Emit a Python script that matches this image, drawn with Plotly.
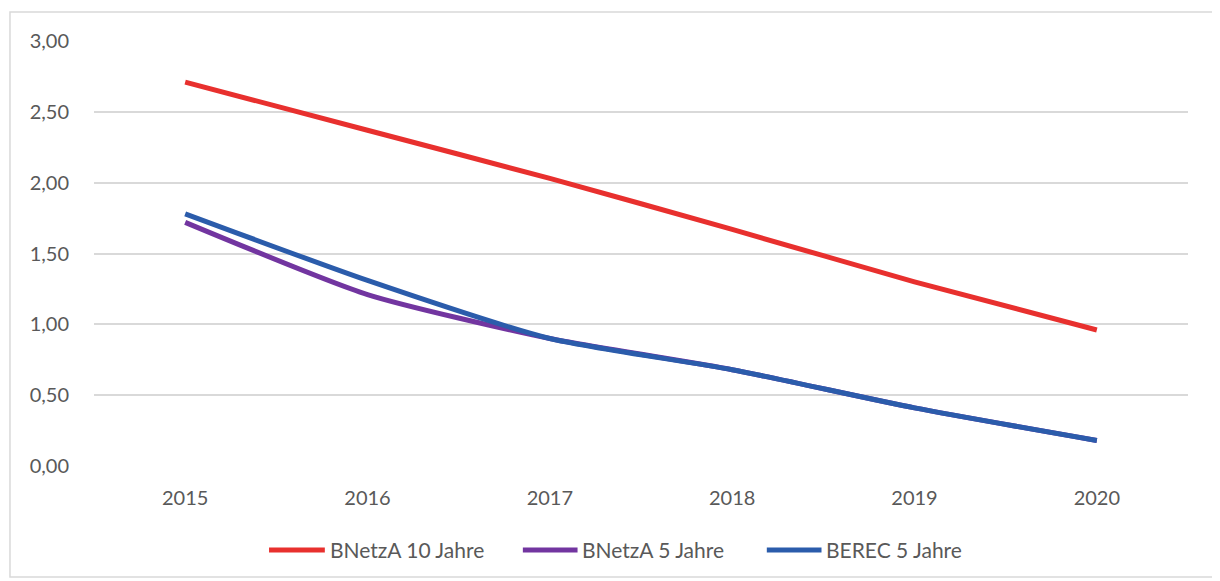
import plotly.graph_objects as go

years = ["2015", "2016", "2017", "2018", "2019", "2020"]
bnetza_10 = [2.71, 2.37, 2.03, 1.67, 1.30, 0.96]
bnetza_5 = [1.72, 1.21, 0.90, 0.68, 0.41, 0.18]
berec_5 = [1.78, 1.31, 0.90, 0.68, 0.41, 0.18]
series_names = ["BNetzA 10 Jahre", "BNetzA 5 Jahre", "BEREC 5 Jahre"]
y_ticks = [0, 0.5, 1.0, 1.5, 2.0, 2.5, 3.0]
y_tick_labels = ["0,00", "0,50", "1,00", "1,50", "2,00", "2,50", "3,00"]

colors = ["#E8302E", "#7235A0", "#2B5CAB"]
series = [bnetza_10, bnetza_5, berec_5]

fig = go.Figure()
for name, vals, col in zip(series_names, series, colors):
    fig.add_trace(go.Scatter(x=years, y=vals, mode="lines", name=name, showlegend=False,
                             line=dict(color=col, width=5, shape="spline", smoothing=0.6)))

# custom legend (long line samples as in the original)
legend_pos = [(0.160, 0.211, 0.214), (0.392, 0.442, 0.444), (0.615, 0.665, 0.667)]
legend_y = -0.1976
shapes = [dict(type="rect", xref="paper", yref="paper",
               x0=-0.0768, x1=1.0238, y0=-0.261, y1=1.068,
               line=dict(color="#D9D9D9", width=1.5), fillcolor="rgba(0,0,0,0)", layer="below")]
annotations = []
for name, col, (x0, x1, xt) in zip(series_names, colors, legend_pos):
    shapes.append(dict(type="line", xref="paper", yref="paper", x0=x0, x1=x1,
                       y0=legend_y, y1=legend_y, line=dict(color=col, width=5)))
    annotations.append(dict(xref="paper", yref="paper", x=xt, y=legend_y, text=name,
                            showarrow=False, xanchor="left", yanchor="middle",
                            font=dict(size=21, color="#595959")))

fig.update_layout(
    width=1212, height=573,
    margin=dict(l=86, r=32, t=33, b=115),
    paper_bgcolor="white", plot_bgcolor="white",
    font=dict(family="Lato, Open Sans, sans-serif", size=20, color="#595959"),
    showlegend=False,
    shapes=shapes,
    annotations=annotations,
)
fig.update_xaxes(type="category", range=[-0.5, 5.5], showgrid=False, zeroline=False,
                 showline=False, ticks="", ticklabelstandoff=18,
                 tickfont=dict(size=20, color="#595959"))
fig.update_yaxes(range=[0, 3.0], tickvals=y_ticks, ticktext=y_tick_labels,
                 showgrid=True, gridcolor="#D9D9D9", gridwidth=2, zeroline=False,
                 showline=False, ticks="", ticklabelstandoff=24,
                 tickfont=dict(size=20, color="#595959"))

fig.write_html("out.html")
